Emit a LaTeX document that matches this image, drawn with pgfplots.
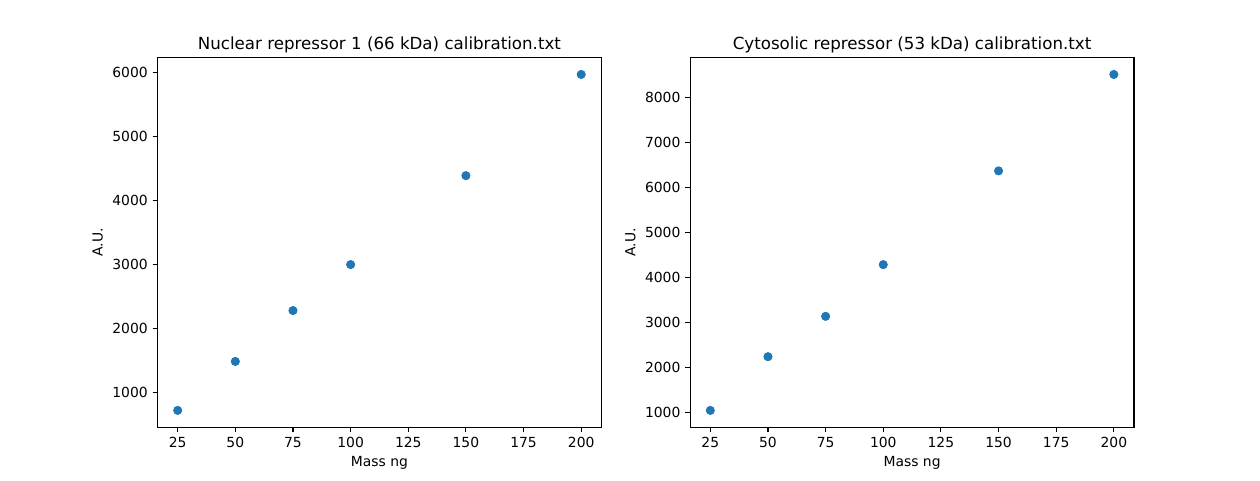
\documentclass[border=0pt]{standalone}
\usepackage{fontspec}
\setmainfont{DejaVu Sans}
\usepackage{pgfplots}
\pgfplotsset{compat=1.18}
\definecolor{mplblue}{HTML}{1F77B4}
\pgfplotsset{
  mpl/.style={
    scale only axis,
    width=319.6pt, height=266.1pt,
    anchor=south west,
    xmin=16.25, xmax=208.75,
    xtick={25,50,75,100,125,150,175,200},
    tick align=outside,
    tickwidth=3.5pt,
    major tick style={line width=0.8pt, black},
    axis line style={line width=0.8pt},
    every tick label/.append style={font=\fontsize{10}{12}\selectfont},
    xticklabel style={yshift=-0.5pt},
    /pgf/number format/assume math mode=true,
    /pgf/number format/1000 sep={},
    scaled ticks=false,
    xtick pos=bottom, ytick pos=left,
    label style={font=\fontsize{10}{12}\selectfont},
    xlabel style={yshift=1pt},
    title style={font=\fontsize{12}{14}\selectfont, at={(0.5,1)}, anchor=south, yshift=-6pt},
    xlabel={Mass ng}, ylabel={A.U.},
  },
  pts/.style={only marks, mark=*, mark size=3pt, mark options={draw=mplblue, fill=mplblue, line width=0.5pt}},
}
\begin{document}
\begin{tikzpicture}
\useasboundingbox (0,0) rectangle (907.2pt,345.6pt);
\begin{axis}[mpl, at={(113.4pt,38.0pt)},
  ymin=456, ymax=6237,
  ytick={1000,2000,3000,4000,5000,6000},
  title={Nuclear repressor 1 (66 kDa) calibration.txt}]
\addplot[pts] coordinates {(25,719) (50,1485) (75,2281) (100,3000) (150,4391) (200,5974)};
\end{axis}
\begin{axis}[mpl, at={(496.9pt,38.0pt)},
  ymin=671, ymax=8876,
  ytick={1000,2000,3000,4000,5000,6000,7000,8000},
  title={Cytosolic repressor (53 kDa) calibration.txt}]
\addplot[pts] coordinates {(25,1044) (50,2237) (75,3133) (100,4281) (150,6362) (200,8503)};
\end{axis}
\end{tikzpicture}
\end{document}
